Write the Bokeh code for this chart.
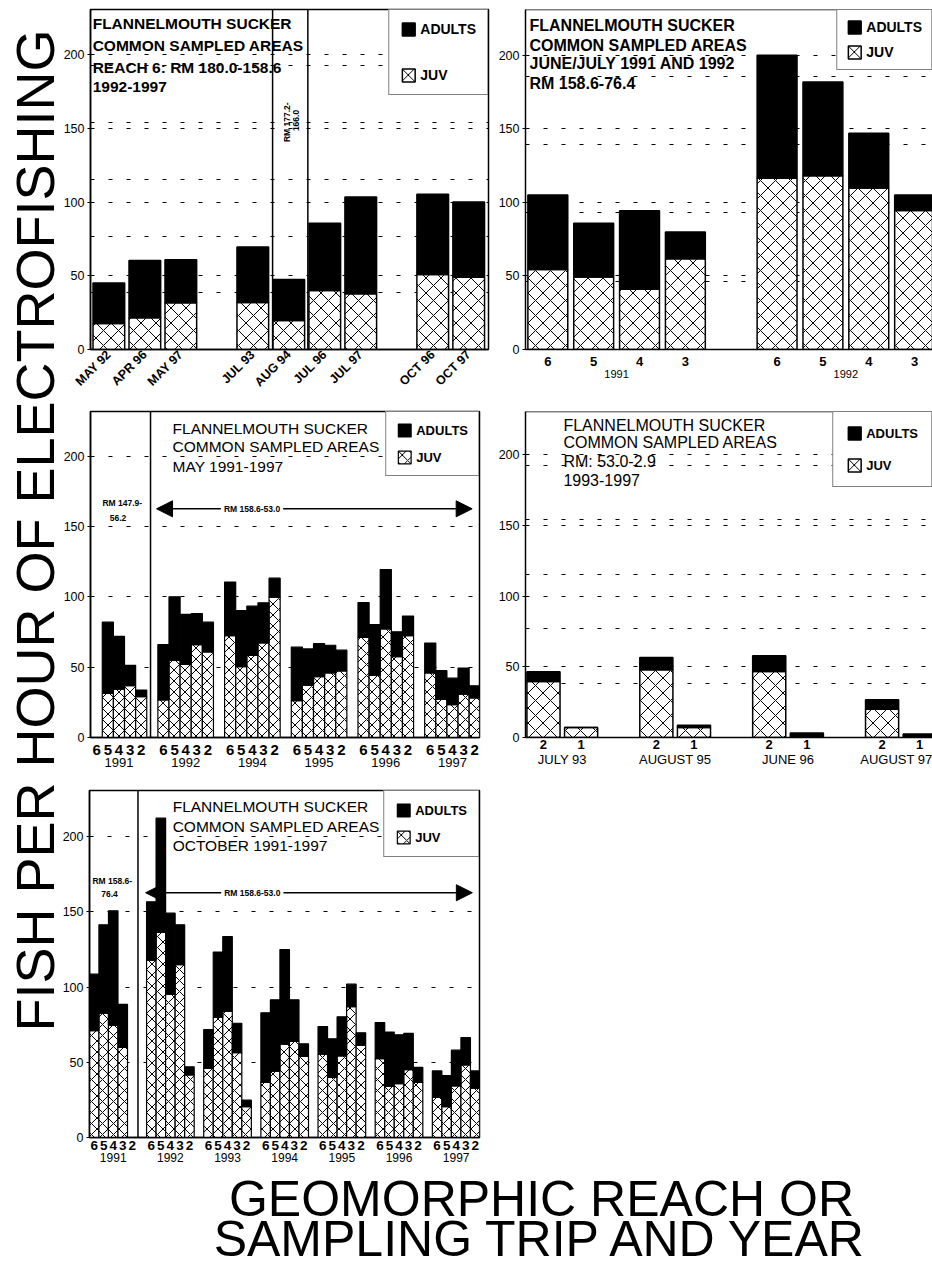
from math import pi
from bokeh.plotting import figure
from bokeh.models import (ColumnDataSource, Range1d, FixedTicker, LinearAxis, Grid,
                          Label, Span, Legend, LegendItem, Arrow, NormalHead)
from bokeh.layouts import row, column
from bokeh.embed import file_html
from bokeh.resources import INLINE

FONT = "Liberation Sans"

# ---------------- data ----------------
# Panel A: reach 6 (RM 180.0-158.6), sampling trips 1992-1997
a_trips = ["MAY 92", "APR 96", "MAY 97", "JUL 93", "AUG 94", "JUL 96", "JUL 97", "OCT 96", "OCT 97"]
a_blocks = [3, 4, 2]
a_juv = [17.6, 21.5, 31.7, 31.9, 19.7, 40.0, 37.8, 50.9, 49.1]
a_adults = [27.6, 38.9, 29.2, 37.6, 27.8, 45.7, 65.6, 54.5, 50.9]

# Panel B: June/July 1991 and 1992, by geomorphic reach
b_years = ["1991", "1992"]
b_reaches = ["6", "5", "4", "3"]
b_juv = [[54.3, 49.3, 41.0, 61.6], [116.3, 118.1, 109.7, 94.4]]
b_adults = [[50.6, 36.4, 53.2, 18.2], [83.7, 63.7, 37.2, 10.5]]

# Panel C: May 1991-1997
c_years = ["1991", "1992", "1994", "1995", "1996", "1997"]
c_reaches = ["6", "5", "4", "3", "2"]
c_juv = [[0.0, 31.4, 34.4, 36.8, 29.0],
         [26.7, 54.8, 52.0, 66.0, 60.9],
         [72.4, 50.4, 58.3, 67.2, 99.8],
         [26.2, 37.2, 43.3, 45.9, 47.3],
         [71.2, 44.3, 77.3, 57.4, 72.4],
         [45.9, 27.2, 23.4, 30.9, 28.1]]
c_adults = [[0.0, 50.6, 37.5, 14.5, 4.7],
            [39.3, 45.2, 35.6, 22.1, 21.1],
            [38.1, 39.8, 35.1, 28.6, 13.5],
            [38.0, 25.8, 23.4, 19.7, 14.8],
            [24.8, 36.0, 42.1, 17.8, 14.0],
            [21.3, 20.3, 18.8, 18.5, 8.7]]

# Panel D: RM 53.0-2.9, 1993-1997
d_trips = ["JULY 93", "AUGUST 95", "JUNE 96", "AUGUST 97"]
d_reaches = ["2", "1"]
d_juv = [[39.6, 7.0], [47.9, 7.0], [46.7, 0.0], [20.0, 0.0]]
d_adults = [[6.9, 0.0], [8.7, 1.7], [11.1, 3.1], [6.7, 2.4]]

# Panel E: October 1991-1997
e_years = ["1991", "1992", "1993", "1994", "1995", "1996", "1997"]
e_reaches = ["6", "5", "4", "3", "2"]
e_juv = [[71.0, 82.7, 74.5, 60.0, 0.0],
         [118.0, 136.4, 95.3, 114.9, 41.7],
         [46.1, 79.8, 83.8, 56.5, 20.6],
         [36.6, 44.1, 62.1, 63.9, 53.9],
         [55.4, 39.9, 54.3, 87.1, 61.4],
         [52.5, 34.1, 35.9, 45.2, 36.6],
         [26.6, 20.6, 34.4, 48.3, 32.8]]
e_adults = [[37.6, 58.8, 76.3, 28.5, 0.0],
            [38.8, 76.0, 53.9, 26.6, 5.3],
            [25.7, 43.5, 49.9, 19.5, 4.2],
            [46.3, 47.5, 62.9, 27.7, 8.4],
            [18.4, 25.7, 26.0, 14.9, 8.2],
            [24.0, 36.0, 32.4, 24.0, 10.0],
            [17.7, 20.6, 23.7, 18.2, 11.5]]


# ---------------- helpers ----------------
def grouped(n_groups, n_per, gap=1):
    xs, ticks = [], []
    for g in range(n_groups):
        for i in range(n_per):
            xs.append(g * (n_per + gap) + i)
        ticks.append(g * (n_per + gap) + (n_per - 1) / 2)
    return xs, ticks


def flat(nested):
    return [v for grp in nested for v in grp]


def panel(w, h, bl, br, bt, bb, xr, ytop, outline=True, extra_grid=()):
    p = figure(width=w, height=h, x_range=Range1d(*xr), y_range=Range1d(0, ytop),
               x_axis_type=None, y_axis_type=None, output_backend="svg",
               toolbar_location=None, min_border_left=bl, min_border_right=br,
               min_border_top=bt, min_border_bottom=bb)
    p.outline_line_color = "black" if outline else None
    p.outline_line_width = 1.5
    p.background_fill_color = "white"
    p.border_fill_color = "white"
    ya = LinearAxis(ticker=FixedTicker(ticks=[0, 50, 100, 150, 200]))
    ya.axis_line_width = 1.5
    ya.major_tick_out = 3
    ya.major_tick_in = 0
    ya.minor_tick_line_color = None
    ya.major_label_standoff = 3
    ya.major_label_text_font = FONT
    ya.major_label_text_font_size = "12.5px"
    ya.major_label_text_color = "black"
    p.add_layout(ya, "left")
    g = Grid(dimension=1, ticker=FixedTicker(ticks=sorted([50, 100, 150, 200] + list(extra_grid))),
             grid_line_color="black", grid_line_dash="4 14", grid_line_width=1)
    p.add_layout(g)
    if not outline:
        p.add_layout(Span(location=ytop, dimension="width", line_color="black", line_width=1.5))
    return p


def xaxis(p, ticks, labels, size, bold, standoff, line=True, orientation="horizontal"):
    ax = LinearAxis(ticker=FixedTicker(ticks=ticks),
                    major_label_overrides={t: l for t, l in zip(ticks, labels)})
    ax.axis_line_color = "black" if line else None
    ax.axis_line_width = 1.5
    ax.major_tick_line_color = None
    ax.minor_tick_line_color = None
    ax.major_tick_out = 0
    ax.major_tick_in = 0
    ax.major_label_standoff = standoff
    ax.major_label_text_font = FONT
    ax.major_label_text_font_size = f"{size}px"
    ax.major_label_text_font_style = "bold" if bold else "normal"
    ax.major_label_text_color = "black"
    ax.major_label_orientation = orientation
    p.add_layout(ax, "below")


def bars(p, xs, juv, adults, bw, lw, hs):
    src = ColumnDataSource(dict(x=xs, juv=juv, adults=adults))
    rs = p.vbar_stack(["juv", "adults"], x="x", width=bw, source=src,
                      fill_color=["white", "black"], line_color="black", line_width=lw,
                      hatch_pattern=["diagonal_cross", None], hatch_color="black",
                      hatch_scale=hs, hatch_weight=1)
    return rs


def legend(p, rs, size, bold, padding, spacing):
    leg = Legend(items=[LegendItem(label="ADULTS", renderers=[rs[1]]),
                        LegendItem(label="JUV", renderers=[rs[0]])],
                 location="top_right", margin=0, padding=padding, spacing=spacing,
                 glyph_width=16, glyph_height=16, label_height=16, label_standoff=4,
                 border_line_color="black", border_line_width=1.5,
                 background_fill_color="white", background_fill_alpha=1.0,
                 label_text_font=FONT, label_text_font_size=f"{size}px",
                 label_text_font_style="bold" if bold else "normal", label_text_color="black")
    p.add_layout(leg)


def txt(p, x, y, s, size, bold=False, align="left", angle=0, bg=None):
    lab = Label(x=x, y=y, text=s, text_font=FONT, text_font_size=f"{size}px",
                text_font_style="bold" if bold else "normal", text_align=align,
                text_baseline="middle", angle=angle, text_color="black")
    if bg is not None:
        lab.background_fill_color = bg
        lab.padding = 3
    p.add_layout(lab)


def title(p, x, ys, lines, size, bold):
    for y, s in zip(ys, lines):
        txt(p, x, y, s, size, bold)


def arrow(p, x0, x1, y):
    p.add_layout(Arrow(start=NormalHead(size=16, fill_color="black", line_color="black"),
                       end=NormalHead(size=16, fill_color="black", line_color="black"),
                       x_start=x0, y_start=y, x_end=x1, y_end=y,
                       line_color="black", line_width=1.5, level="underlay"))


GRID_A = [38.5, 77.0, 115.5, 154.0, 192.5]
GRID_B = [46.4, 92.8, 139.2, 185.6]

# ---------------- panel A ----------------
pA = panel(432, 400, 32, 2, 9, 51, (-0.51, 10.55), 230.7, True, GRID_A)
a_x = []
pos = 0
for n in a_blocks:
    a_x.extend(range(pos, pos + n))
    pos += n + 1
rA = bars(pA, a_x, a_juv, a_adults, 0.88, 1.5, 15)
xaxis(pA, a_x, a_trips, 12.5, True, 3, orientation=pi / 4)
pA.add_layout(Span(location=4.55, dimension="height", line_color="black", line_width=1.5))
pA.add_layout(Span(location=5.53, dimension="height", line_color="black", line_width=1.5))
txt(pA, 4.96, 154.2, "RM 177.2-", 8.5, True, "center", angle=pi / 2)
txt(pA, 5.21, 155.4, "166.0", 8.5, True, "center", angle=pi / 2)
title(pA, -0.45, [221.2, 206.3, 191.3, 177.8],
      ["FLANNELMOUTH SUCKER", "COMMON SAMPLED AREAS", "REACH 6: RM 180.0-158.6", "1992-1997"],
      15.5, True)
legend(pA, rA, 14, True, 11, 30)

# ---------------- panel B ----------------
pB = panel(442, 400, 35, 0, 9, 51, (-0.487, 8.39), 231.0, False, GRID_B)
b_x, b_t = grouped(len(b_years), len(b_reaches))
rB = bars(pB, b_x, flat(b_juv), flat(b_adults), 0.87, 1.5, 15)
xaxis(pB, b_x, b_reaches * len(b_years), 13, True, 7)
xaxis(pB, b_t, b_years, 11, False, 1, line=False)
title(pB, -0.40, [220.1, 206.5, 194.3, 180.7],
      ["FLANNELMOUTH SUCKER", "COMMON SAMPLED AREAS", "JUNE/JULY 1991 AND 1992", "RM 158.6-76.4"],
      16, True)
legend(pB, rB, 14, True, 9, 9)

# ---------------- panel C ----------------
pC = panel(432, 382, 32, 11, 9, 43, (-0.56, 34.43), 231.8, True)
c_x, c_t = grouped(len(c_years), len(c_reaches))
rC = bars(pC, c_x, flat(c_juv), flat(c_adults), 1.0, 1.2, 11)
xaxis(pC, c_x, c_reaches * len(c_years), 15, True, 7)
xaxis(pC, c_t, c_years, 13, False, 0, line=False)
pC.add_layout(Span(location=4.84, dimension="height", line_color="black", line_width=1.5))
txt(pC, 2.30, 166.7, "RM 147.9-", 8.5, True, "center")
txt(pC, 1.92, 155.9, "56.2", 8.5, True, "center")
arrow(pC, 33.77, 5.38, 162.6)
txt(pC, 13.97, 162.6, "RM 158.6-53.0", 8.5, True, "center", bg="white")
title(pC, 6.82, [219.8, 206.9, 192.9],
      ["FLANNELMOUTH SUCKER", "COMMON SAMPLED AREAS", "MAY 1991-1997"], 15.5, False)
legend(pC, rC, 13, True, 10, 11)

# ---------------- panel D ----------------
pD = panel(442, 382, 35, 0, 11, 45, (-0.478, 10.34), 230.7, False, GRID_A)
d_x, d_t = grouped(len(d_trips), len(d_reaches))
rD = bars(pD, d_x, flat(d_juv), flat(d_adults), 0.88, 1.5, 15)
xaxis(pD, d_x, d_reaches * len(d_trips), 13, True, 2)
xaxis(pD, d_t, d_trips, 13, False, 0, line=False)
title(pD, 0.53, [220.9, 208.5, 195.3, 182.4],
      ["FLANNELMOUTH SUCKER", "COMMON SAMPLED AREAS", "RM: 53.0-2.9", "1993-1997"], 16, False)
legend(pD, rD, 13, True, 13, 16)

# ---------------- panel E ----------------
pE = panel(432, 388, 31, 11, 8, 33, (-0.49, 40.45), 230.8, True)
e_x, e_t = grouped(len(e_years), len(e_reaches))
rE = bars(pE, e_x, flat(e_juv), flat(e_adults), 1.0, 1.2, 11)
xaxis(pE, e_x, e_reaches * len(e_years), 13.5, True, 3)
xaxis(pE, e_t, e_years, 12, False, 0, line=False)
pE.add_layout(Span(location=4.6, dimension="height", line_color="black", line_width=1.5))
txt(pE, 1.90, 170.9, "RM 158.6-", 8.5, True, "center")
txt(pE, 1.61, 162.1, "76.4", 8.5, True, "center")
arrow(pE, 39.7, 5.4, 162.8)
txt(pE, 16.6, 162.8, "RM 158.6-53.0", 8.5, True, "center", bg="white")
title(pE, 8.24, [220.2, 207.1, 194.1],
      ["FLANNELMOUTH SUCKER", "COMMON SAMPLED AREAS", "OCTOBER 1991-1997"], 15.5, False)
legend(pE, rE, 13, True, 11, 11)

# ---------------- big axis titles ----------------
pL = figure(width=58, height=1268, x_range=Range1d(0, 58), y_range=Range1d(0, 1268),
            x_axis_type=None, y_axis_type=None, output_backend="svg",
            toolbar_location=None, min_border=0)
pL.outline_line_color = None
pL.add_layout(Label(x=34, y=738, text="FISH PER HOUR OF ELECTROFISHING", angle=pi / 2,
                    text_align="center", text_baseline="middle", text_font=FONT,
                    text_font_size="54px", text_color="black"))

pBot = figure(width=874, height=98, x_range=Range1d(0, 874), y_range=Range1d(0, 98),
              x_axis_type=None, y_axis_type=None, output_backend="svg",
              toolbar_location=None, min_border=0)
pBot.outline_line_color = None
pBot.add_layout(Label(x=483, y=70, text="GEOMORPHIC REACH OR", text_align="center",
                      text_baseline="middle", text_font=FONT, text_font_size="50px",
                      text_color="black"))
pBot.add_layout(Label(x=483, y=30, text="SAMPLING TRIP AND YEAR", text_align="center",
                      text_baseline="middle", text_font=FONT, text_font_size="50px",
                      text_color="black"))

layout = row(pL, column(row(pA, pB), row(pC, pD), row(pE), pBot))

open("out.html", "w").write(file_html(layout, INLINE))
